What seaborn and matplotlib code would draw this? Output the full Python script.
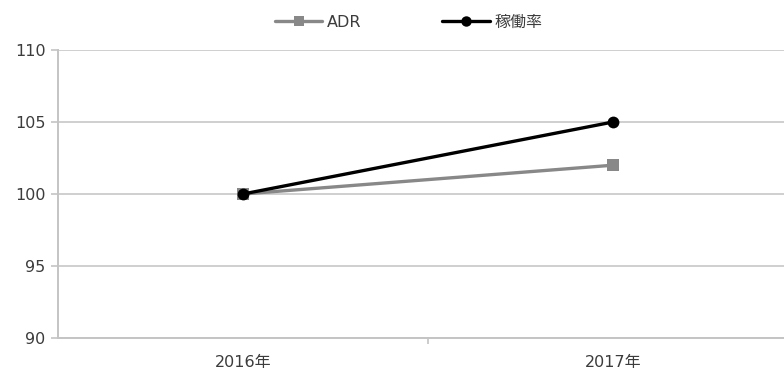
import matplotlib
matplotlib.use("Agg")
import matplotlib.pyplot as plt
import seaborn as sns
import pandas as pd
from matplotlib.lines import Line2D

years = ["2016年", "2017年"]
adr = [100, 102]
occupancy = [100, 105]
series_names = ["ADR", "稼働率"]
y_ticks = [90, 95, 100, 105, 110]

sns.set_theme(style="white")
plt.rcParams["font.family"] = ["DejaVu Sans", "Noto Sans CJK JP"]

df = pd.DataFrame({
    "year": years * 2,
    "value": adr + occupancy,
    "series": [series_names[0]] * len(years) + [series_names[1]] * len(years),
})

fig = plt.figure(figsize=(7.84, 3.72), dpi=100)
ax = fig.add_axes([58 / 784, 1 - 338 / 372, 740 / 784, (338 - 50) / 372])

palette = {"ADR": "#888888", "稼働率": "#000000"}
markers = {"ADR": "s", "稼働率": "o"}
sns.lineplot(data=df, x="year", y="value", hue="series", style="series",
             palette=palette, markers=markers, dashes=False, linewidth=2.4,
             markersize=8.5, markeredgewidth=0, ax=ax, legend=False, sort=False)

ax.set_xlim(-0.5, 1.5)
ax.set_ylim(90, 110)
ax.set_yticks(y_ticks)
ax.set_xticks([0, 1])
ax.set_xticklabels(years)
ax.set_xticks([0.5], minor=True)
ax.set_xlabel("")
ax.set_ylabel("")

ax.yaxis.grid(True, color="#cfcfcf", linewidth=1.4)
ax.set_axisbelow(True)
for side in ["top", "right"]:
    ax.spines[side].set_visible(False)
for side in ["left", "bottom"]:
    ax.spines[side].set_color("#c4c4c4")
    ax.spines[side].set_linewidth(1.4)

ax.tick_params(axis="y", which="major", length=5, width=1.2, color="#c4c4c4",
               labelsize=11.5, labelcolor="#3c3c3c", pad=4, left=True)
ax.tick_params(axis="x", which="major", length=0, labelsize=11.5,
               labelcolor="#3c3c3c", pad=12)
ax.tick_params(axis="x", which="minor", length=4, width=1.2, color="#c4c4c4",
               bottom=True)

handles = [
    Line2D([], [], color=palette[n], marker=markers[n], linewidth=2.4,
           markersize=7.5, markeredgewidth=0) for n in series_names
]
fig.legend(handles, series_names, loc="center", bbox_to_anchor=(0.521, 0.94),
           ncol=2, frameon=False, fontsize=11.5, labelcolor="#3c3c3c",
           handlelength=3.0, handletextpad=0.3, columnspacing=5.0)

fig.savefig("out.png", dpi=100)
